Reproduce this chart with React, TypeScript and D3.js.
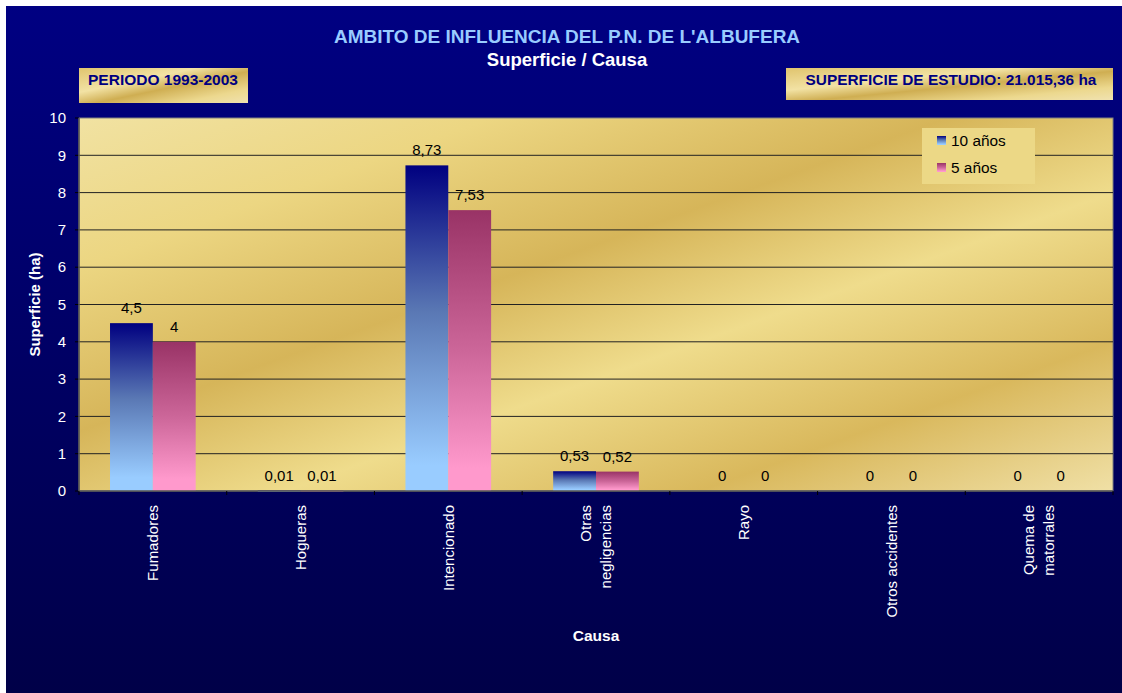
import * as d3 from 'd3';

const categories: string[][] = [
  ['Fumadores'],
  ['Hogueras'],
  ['Intencionado'],
  ['Otras', 'negligencias'],
  ['Rayo'],
  ['Otros accidentes'],
  ['Quema de', 'matorrales'],
];
const series = ['10 años', '5 años'];
const values10 = [4.5, 0.01, 8.73, 0.53, 0, 0, 0];
const values5 = [4, 0.01, 7.53, 0.52, 0, 0, 0];
const yTicks = [0, 1, 2, 3, 4, 5, 6, 7, 8, 9, 10];

const W = 1122;
const H = 693;
const plot = { left: 79, right: 1113, top: 118, bottom: 491 };
const font = '"Liberation Sans", Arial, sans-serif';

const fmt = (v: number) => String(v).replace('.', ',');

export default function App() {
  const x0 = d3
    .scaleBand<number>()
    .domain(categories.map((_, i) => i))
    .range([plot.left, plot.right])
    .padding(0);
  const groupW = x0.bandwidth() * 0.58;
  const x1 = d3
    .scaleBand<number>()
    .domain([0, 1])
    .range([0, groupW])
    .padding(0);
  const y = d3.scaleLinear().domain([0, 10]).range([plot.bottom, plot.top]);
  const data = [values10, values5];

  return (
    <svg
      width={W}
      height={H}
      style={{ position: 'absolute', left: 0, top: 0, fontFamily: font }}
    >
      <defs>
        <linearGradient id="bg" x1="0" y1="0" x2="0" y2="1">
          <stop offset="0" stopColor="#000082" />
          <stop offset="1" stopColor="#000048" />
        </linearGradient>
        <linearGradient id="gold" x1="0" y1="0" x2="1" y2="1">
          <stop offset="0" stopColor="#f1e2a2" />
          <stop offset="0.2" stopColor="#ecd682" />
          <stop offset="0.42" stopColor="#d6b559" />
          <stop offset="0.6" stopColor="#efdc8c" />
          <stop offset="0.8" stopColor="#d9b85c" />
          <stop offset="1" stopColor="#f0e0a6" />
        </linearGradient>
        <linearGradient id="goldBox" x1="0" y1="0" x2="1" y2="1">
          <stop offset="0" stopColor="#e0c46e" />
          <stop offset="0.35" stopColor="#f2e2a4" />
          <stop offset="0.55" stopColor="#cfae52" />
          <stop offset="0.8" stopColor="#ecd88e" />
          <stop offset="1" stopColor="#f0e2b0" />
        </linearGradient>
        <linearGradient id="blueBar" x1="0" y1="0" x2="0" y2="1">
          <stop offset="0" stopColor="#000080" />
          <stop offset="0.45" stopColor="#5a78b4" />
          <stop offset="0.92" stopColor="#99ccff" />
          <stop offset="1" stopColor="#99ccff" />
        </linearGradient>
        <linearGradient id="pinkBar" x1="0" y1="0" x2="0" y2="1">
          <stop offset="0" stopColor="#993366" />
          <stop offset="0.5" stopColor="#cc6699" />
          <stop offset="0.92" stopColor="#ff99cc" />
          <stop offset="1" stopColor="#ff99cc" />
        </linearGradient>
      </defs>

      <rect x={6} y={6} width={W - 6} height={H - 6} fill="url(#bg)" />

      {/* titles */}
      <text x={567} y={43} textAnchor="middle" fill="#99ccff" fontSize={19} fontWeight="bold">
        AMBITO DE INFLUENCIA DEL P.N. DE L'ALBUFERA
      </text>
      <text x={567} y={66} textAnchor="middle" fill="#ffffff" fontSize={18.5} fontWeight="bold">
        Superficie / Causa
      </text>

      <rect x={79} y={68} width={169} height={35} fill="url(#goldBox)" />
      <text x={163} y={85} textAnchor="middle" fill="#000080" fontSize={15.5} fontWeight="bold">
        PERIODO 1993-2003
      </text>
      <rect x={786} y={68} width={327} height={32} fill="url(#goldBox)" />
      <text x={951} y={85} textAnchor="middle" fill="#000080" fontSize={15.4} fontWeight="bold">
        SUPERFICIE DE ESTUDIO: 21.015,36 ha
      </text>

      {/* plot area */}
      <rect
        x={plot.left}
        y={plot.top}
        width={plot.right - plot.left}
        height={plot.bottom - plot.top}
        fill="url(#gold)"
        stroke="#808080"
        strokeWidth={1}
      />
      {yTicks.map((t) => (
        <g key={t}>
          {t > 0 && t < 10 && (
            <line x1={plot.left} x2={plot.right} y1={y(t)} y2={y(t)} stroke="#222" strokeWidth={1} />
          )}
          <line x1={plot.left - 4} x2={plot.left} y1={y(t)} y2={y(t)} stroke="#000" />
          <text x={plot.left - 13} y={y(t)} dy="0.35em" textAnchor="end" fill="#fff" fontSize={15}>
            {t}
          </text>
        </g>
      ))}

      {/* bars */}
      {categories.map((_, i) => (
        <g key={i} transform={`translate(${x0(i)! + (x0.bandwidth() - groupW) / 2},0)`}>
          {data.map((vals, s) => {
            const v = vals[i];
            const top = y(v);
            return (
              <g key={s}>
                {v > 0 && (
                  <rect
                    x={x1(s)}
                    y={top}
                    width={x1.bandwidth()}
                    height={Math.max(plot.bottom - top, 1)}
                    fill={s === 0 ? 'url(#blueBar)' : 'url(#pinkBar)'}
                  />
                )}
                <text
                  x={x1(s)! + x1.bandwidth() / 2}
                  y={top - 10}
                  textAnchor="middle"
                  fill="#000"
                  fontSize={15}
                >
                  {fmt(v)}
                </text>
              </g>
            );
          })}
        </g>
      ))}

      {/* axis lines */}
      <line x1={plot.left} x2={plot.right} y1={plot.bottom} y2={plot.bottom} stroke="#555" strokeWidth={1.5} />
      <line x1={plot.left} x2={plot.left} y1={plot.top} y2={plot.bottom} stroke="#555" strokeWidth={1.5} />
      {categories.map((_, i) => (
        <line
          key={i}
          x1={x0(i)!}
          x2={x0(i)!}
          y1={plot.bottom}
          y2={plot.bottom + 4}
          stroke="#000"
        />
      ))}
      <line x1={plot.right} x2={plot.right} y1={plot.bottom} y2={plot.bottom + 4} stroke="#000" />

      {/* category labels */}
      {categories.map((lines, i) => {
        const cx = x0(i)! + x0.bandwidth() / 2;
        const off = ((lines.length - 1) * 20) / 2;
        return (
          <text
            key={i}
            transform={`translate(${cx},${plot.bottom + 14}) rotate(-90)`}
            textAnchor="end"
            fill="#fff"
            fontSize={15}
          >
            {lines.map((l, k) => (
              <tspan key={k} x={0} y={-off + k * 20} dy="0.35em">
                {l}
              </tspan>
            ))}
          </text>
        );
      })}

      <text x={596} y={641} textAnchor="middle" fill="#fff" fontSize={15.5} fontWeight="bold">
        Causa
      </text>
      <text
        transform={`translate(35,${(plot.top + plot.bottom) / 2}) rotate(-90)`}
        dy="0.35em"
        textAnchor="middle"
        fill="#fff"
        fontSize={15}
        fontWeight="bold"
      >
        Superficie (ha)
      </text>

      {/* legend */}
      <rect x={922} y={128} width={113} height={56} fill="#ecd886" />
      {series.map((name, s) => (
        <g key={name} transform={`translate(937,${136 + s * 27})`}>
          <rect width={9} height={9} fill={s === 0 ? 'url(#blueBar)' : 'url(#pinkBar)'} />
          <text x={14} y={5} dy="0.35em" fill="#000" fontSize={15.4}>
            {name}
          </text>
        </g>
      ))}
    </svg>
  );
}
